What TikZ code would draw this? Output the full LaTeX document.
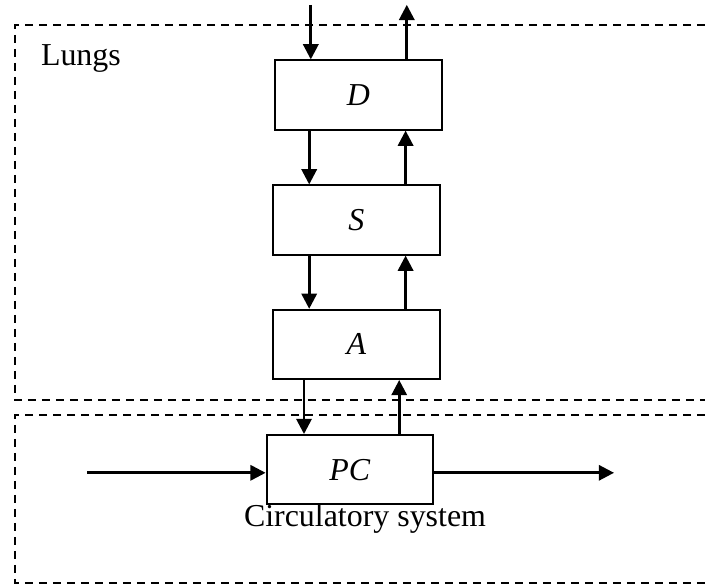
\documentclass[tikz,border=0pt]{standalone}
\usepackage{fontspec}
\setmainfont{Liberation Serif}
\usetikzlibrary{calc,positioning,arrows.meta}

\begin{document}
\begin{tikzpicture}[>={Triangle[length=0.38cm,width=0.38cm]}, line width=1.9pt,
    font=\fontsize{22.7}{27}\selectfont,
    organ/.style={rectangle, draw, line width=1.4pt, minimum width=4.17cm, minimum height=1.73cm, inner sep=0pt},
    region/.style={dash pattern=on 0.2cm off 0.15cm, line width=1.4pt}]

    \useasboundingbox (0,0) rectangle (17.625,-14.625);

    % regions
    \draw[region] (17.625,-0.625) -| (0.375,-10) -- (17.625,-10);
    \draw[region] (17.625,-10.375) -| (0.375,-14.575) -- (17.625,-14.575);
    \draw (0.875,-1.625) node[anchor=base west] (L) {Lungs};
    \draw (9.125,-13.17) node[anchor=base] (C) {Circulatory system};

    % boxes
    \draw (8.96,-2.375) node[organ] (D) {\textit{D}};
    \draw (8.91,-5.5) node[organ] (S) {\textit{S}};
    \draw (8.91,-8.61) node[organ] (A) {\textit{A}};
    \draw (8.75,-11.74) node[organ] (PC) {\textit{PC}};

    % ends and columns
    \coordinate (in) at (7.77,-0.12);
    \coordinate (out) at (10.17,-0.12);
    \coordinate (dn) at (7.73,0);
    \coordinate (up) at (10.14,0);
    \coordinate (dn2) at (7.6,0);
    \coordinate (up2) at (9.98,0);
    \coordinate (bloodin) at (2.175,-11.82);
    \coordinate (bloodout) at (15.35,-11.82);

    % lines
    \draw[->] (in) -- (D.north -| in);
    \draw[->] (D.north -| out) -- (out);
    \draw[->] (D.south -| dn) -- (S.north -| dn);
    \draw[->] (S.north -| up) -- (D.south -| up);
    \draw[->] (S.south -| dn) -- (A.north -| dn);
    \draw[->] (A.north -| up) -- (S.south -| up);
    \draw[->] (A.south -| dn2) -- (PC.north -| dn2);
    \draw[->] (PC.north -| up2) -- (A.south -| up2);
    \draw[->] (bloodin) -- (bloodin -| PC.west);
    \draw[->] (bloodin -| PC.east) -- (bloodout);

\end{tikzpicture}
\end{document}
